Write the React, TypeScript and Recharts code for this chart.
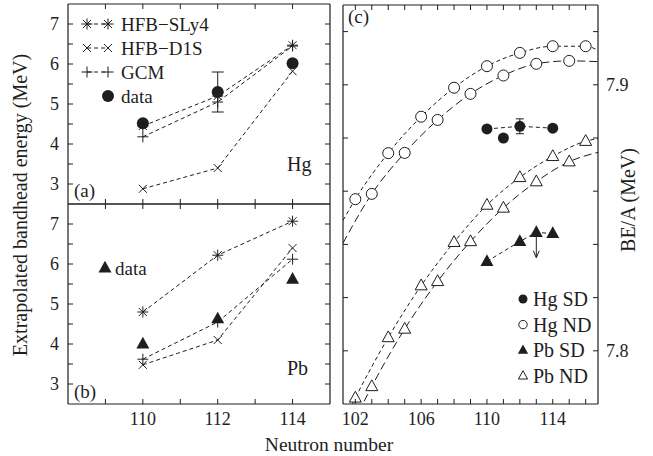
import React from 'react';
import { ComposedChart, Line, XAxis, YAxis, ErrorBar } from 'recharts';

const W = 653;
const H = 456;
const INK = '#1e1e1e';
const FONT = '"Liberation Serif", "DejaVu Serif", "Times New Roman", serif';
const SHORT = '4 3';
const LONG = '8 4';

// (a)/(b) extrapolated bandhead energy (MeV) vs neutron number
const bandN = [110, 112, 114];
const hgSly4 = [4.45, 5.2, 6.47];
const hgD1s = [2.88, 3.4, 5.82];
const hgGcm = [4.18, 5.05, 6.45];
const hgData = [4.52, 5.3, 6.02];
const hgDataErr = [0, 0.5, 0];
const pbSly4 = [4.8, 6.22, 7.07];
const pbD1s = [3.48, 4.1, 6.4];
const pbGcm = [3.62, 4.55, 6.12];
const pbData = [4.0, 4.63, 5.62];

const bandTicksX = [109, 110, 111, 112, 113, 114];
const bandLabelsX = [110, 112, 114];
const bandTicksY = [3, 3.5, 4, 4.5, 5, 5.5, 6, 6.5, 7];
const bandLabelsY = [3, 4, 5, 6, 7];

// (c) BE/A (MeV) vs neutron number
const evenN = [102, 104, 106, 108, 110, 112, 114, 116];
const oddN = [103, 105, 107, 109, 111, 113, 115];
const hgNdEven = [7.857, 7.8743, 7.888, 7.8989, 7.907, 7.912, 7.9145, 7.9145];
const hgNdOdd = [7.859, 7.8744, 7.8868, 7.8966, 7.9035, 7.9079, 7.909];
const pbNdEven = [7.7823, 7.805, 7.8245, 7.8408, 7.8548, 7.8652, 7.8731, 7.8788];
const pbNdOdd = [7.7866, 7.8082, 7.8261, 7.8411, 7.8537, 7.8636, 7.8711];
// where the dashed fits run into the frame
const frameN = [101.25, 116.75];
const hgEvenEnds = [7.849, 7.913];
const hgOddEnds = [7.8405, 7.9087];
const pbEvenEnds = [7.773, 7.8798];
const pbOddEnds = [7.7647, 7.8746];

const hgSdN = [110, 111, 112, 114];
const hgSd = [7.8834, 7.88, 7.8844, 7.8837];
const hgSdErr = [0, 0, 0.0028, 0];
const pbSdN = [110, 112, 113, 114];
const pbSd = [7.8336, 7.8411, 7.8445, 7.8441];
const pbLimitN = 113;
const pbLimit = [7.8445, 7.835];

const beTicksX = [102, 103, 104, 105, 106, 107, 108, 109, 110, 111, 112, 113, 114, 115, 116];
const beLabelsX = [102, 106, 110, 114];
const beTicksY = [7.8, 7.82, 7.84, 7.86, 7.88, 7.9, 7.92];
const beLabelsY = [7.8, 7.9];

const legendA = ['HFB\u2212SLy4', 'HFB\u2212D1S', 'GCM', 'data'];
const legendC = ['Hg SD', 'Hg ND', 'Pb SD', 'Pb ND'];

const hgRows = bandN.map((n, i) => ({ n, sly4: hgSly4[i], d1s: hgD1s[i], gcm: hgGcm[i], data: hgData[i], err: hgDataErr[i] }));
const pbRows = bandN.map((n, i) => ({ n, sly4: pbSly4[i], d1s: pbD1s[i], gcm: pbGcm[i], data: pbData[i], err: 0 }));

const pts = (ns: number[], vs: number[]) => ns.map((n, i) => ({ n, v: vs[i] }));
const fit = (ns: number[], vs: number[], ends: number[]) => [
  { n: frameN[0], v: ends[0] },
  ...pts(ns, vs),
  { n: frameN[1], v: ends[1] },
];

// ---- markers
type Mk = { cx?: number; cy?: number; s?: number };

function Star({ cx = 0, cy = 0 }: Mk) {
  const r = 5.5, d = 4;
  return (
    <g stroke={INK} strokeWidth={1}>
      <line x1={cx - r} x2={cx + r} y1={cy} y2={cy} />
      <line x1={cx} x2={cx} y1={cy - r} y2={cy + r} />
      <line x1={cx - d} x2={cx + d} y1={cy - d} y2={cy + d} />
      <line x1={cx - d} x2={cx + d} y1={cy + d} y2={cy - d} />
    </g>
  );
}
function Cross({ cx = 0, cy = 0 }: Mk) {
  const d = 4;
  return (
    <g stroke={INK} strokeWidth={1}>
      <line x1={cx - d} x2={cx + d} y1={cy - d} y2={cy + d} />
      <line x1={cx - d} x2={cx + d} y1={cy + d} y2={cy - d} />
    </g>
  );
}
function Plus({ cx = 0, cy = 0 }: Mk) {
  const r = 5.5;
  return (
    <g stroke={INK} strokeWidth={1}>
      <line x1={cx - r} x2={cx + r} y1={cy} y2={cy} />
      <line x1={cx} x2={cx} y1={cy - r} y2={cy + r} />
    </g>
  );
}
function Disc({ cx = 0, cy = 0, s = 6 }: Mk) {
  return <circle cx={cx} cy={cy} r={s} fill={INK} />;
}
function Ring({ cx = 0, cy = 0, s = 5.5 }: Mk) {
  return <circle cx={cx} cy={cy} r={s} fill="#fff" stroke={INK} strokeWidth={1} />;
}
function Tri({ cx = 0, cy = 0, s = 6.5 }: Mk) {
  return <path d={`M${cx},${cy - s * 1.1} L${cx + s},${cy + s * 0.7} L${cx - s},${cy + s * 0.7} Z`} fill={INK} />;
}
function OpenTri({ cx = 0, cy = 0, s = 6 }: Mk) {
  return (
    <path d={`M${cx},${cy - s * 1.1} L${cx + s},${cy + s * 0.7} L${cx - s},${cy + s * 0.7} Z`} fill="#fff" stroke={INK} strokeWidth={1} />
  );
}

const dotOf = (Shape: any, s?: number) => (p: any) => <Shape key={'m' + p.index} cx={p.cx} cy={p.cy} s={s} />;
const arrowDot = (p: any) =>
  p.index === 1 ? (
    <path key={'a' + p.index} d={`M${p.cx - 3},${p.cy - 7} L${p.cx},${p.cy} L${p.cx + 3},${p.cy - 7}`} fill="none" stroke={INK} strokeWidth={1} />
  ) : (
    <g key={'a' + p.index} />
  );

// ---- inward ticks
function XTick(props: any) {
  const { x, y, payload, up, labels } = props;
  return (
    <g>
      <line x1={x} x2={x} y1={y} y2={y + (up ? -5 : 5)} stroke={INK} strokeWidth={1} />
      {labels && labels.includes(payload.value) && (
        <text x={x} y={y + 21} textAnchor="middle" fontFamily={FONT} fontSize={18} fill={INK}>
          {payload.value}
        </text>
      )}
    </g>
  );
}
function YTick(props: any) {
  const { x, y, payload, left, labels } = props;
  return (
    <g>
      <line x1={x} x2={x + (left ? 5 : -5)} y1={y} y2={y} stroke={INK} strokeWidth={1} />
      {labels && labels.includes(payload.value) && (
        <text x={left ? x - 9 : x + 8} y={y + 6} textAnchor={left ? 'end' : 'start'} fontFamily={FONT} fontSize={18} fill={INK}>
          {payload.value}
        </text>
      )}
    </g>
  );
}

const frame = { stroke: INK, strokeWidth: 1.2 };
// axes are 1px thick (a 0px axis is not drawn), margins take the rest
const AX = 1;

function BandPanel({ rows, top, xLabels, Mark, err }: any) {
  return (
    <ComposedChart width={W} height={H} data={rows}
      margin={{ top: top - AX, right: W - 330 - AX, bottom: H - top - 200 - AX, left: 68 - AX }}>
      <XAxis dataKey="n" type="number" domain={[108, 115]} allowDataOverflow ticks={bandTicksX} interval={0}
        height={AX} tickSize={0} tickMargin={0} tickLine={false} axisLine={frame} tick={<XTick up labels={xLabels} />} />
      <XAxis xAxisId="top" orientation="top" dataKey="n" type="number" domain={[108, 115]} allowDataOverflow ticks={bandTicksX}
        interval={0} height={AX} tickSize={0} tickMargin={0} tickLine={false} axisLine={frame} tick={<XTick />} />
      <YAxis type="number" domain={[2.5, 7.5]} allowDataOverflow ticks={bandTicksY} interval={0} width={AX}
        tickSize={0} tickMargin={0} tickLine={false} axisLine={frame} tick={<YTick left labels={bandLabelsY} />} />
      <YAxis yAxisId="right" orientation="right" type="number" domain={[2.5, 7.5]} allowDataOverflow ticks={bandTicksY}
        interval={0} width={AX} tickSize={0} tickMargin={0} tickLine={false} axisLine={frame} tick={<YTick />} />
      <Line dataKey="d1s" type="linear" stroke={INK} strokeWidth={1} strokeDasharray={SHORT} dot={dotOf(Cross)} activeDot={false} isAnimationActive={false} />
      <Line dataKey="gcm" type="linear" stroke={INK} strokeWidth={1} strokeDasharray={SHORT} dot={dotOf(Plus)} activeDot={false} isAnimationActive={false} />
      <Line dataKey="sly4" type="linear" stroke={INK} strokeWidth={1} strokeDasharray={SHORT} dot={dotOf(Star)} activeDot={false} isAnimationActive={false} />
      <Line dataKey="data" stroke="none" dot={dotOf(Mark)} activeDot={false} isAnimationActive={false}>
        {err && <ErrorBar dataKey="err" direction="y" width={6} stroke={INK} strokeWidth={1} />}
      </Line>
    </ComposedChart>
  );
}

function BindingPanel() {
  const line = { type: 'monotone' as const, stroke: INK, strokeWidth: 1, dot: false, activeDot: false as const, isAnimationActive: false };
  const hgSdRows = hgSdN.map((n, i) => ({ n, v: hgSd[i], err: hgSdErr[i] }));
  return (
    <ComposedChart width={W} height={H} margin={{ top: 5 - AX, right: W - 598 - AX, bottom: H - 404 - AX, left: 343 - AX }}>
      <XAxis dataKey="n" type="number" domain={frameN} allowDataOverflow ticks={beTicksX} interval={0}
        height={AX} tickSize={0} tickMargin={0} tickLine={false} axisLine={frame} tick={<XTick up labels={beLabelsX} />} />
      <XAxis xAxisId="top" orientation="top" dataKey="n" type="number" domain={frameN} allowDataOverflow ticks={beTicksX}
        interval={0} height={AX} tickSize={0} tickMargin={0} tickLine={false} axisLine={frame} tick={<XTick />} />
      <YAxis type="number" domain={[7.78, 7.93]} allowDataOverflow ticks={beTicksY} interval={0} width={AX}
        tickSize={0} tickMargin={0} tickLine={false} axisLine={frame} tick={<YTick left />} />
      <YAxis yAxisId="right" orientation="right" type="number" domain={[7.78, 7.93]} allowDataOverflow ticks={beTicksY}
        interval={0} width={AX} tickSize={0} tickMargin={0} tickLine={false} axisLine={frame} tick={<YTick labels={beLabelsY} />} />

      <Line {...line} data={fit(evenN, hgNdEven, hgEvenEnds)} dataKey="v" strokeDasharray={SHORT} />
      <Line {...line} data={fit(oddN, hgNdOdd, hgOddEnds)} dataKey="v" strokeDasharray={LONG} />
      <Line {...line} data={fit(evenN, pbNdEven, pbEvenEnds)} dataKey="v" strokeDasharray={SHORT} />
      <Line {...line} data={fit(oddN, pbNdOdd, pbOddEnds)} dataKey="v" strokeDasharray={LONG} />
      <Line {...line} type="linear" data={hgSdRows.filter((d) => d.n % 2 === 0)} dataKey="v" strokeDasharray={SHORT} />
      <Line {...line} type="linear" data={pts(pbSdN, pbSd)} dataKey="v" strokeDasharray={SHORT} />
      <Line {...line} type="linear" data={pts([pbLimitN, pbLimitN], pbLimit)} dataKey="v" dot={arrowDot} />

      <Line data={pts(evenN, hgNdEven)} dataKey="v" stroke="none" dot={dotOf(Ring)} activeDot={false} isAnimationActive={false} />
      <Line data={pts(oddN, hgNdOdd)} dataKey="v" stroke="none" dot={dotOf(Ring)} activeDot={false} isAnimationActive={false} />
      <Line data={pts(evenN, pbNdEven)} dataKey="v" stroke="none" dot={dotOf(OpenTri)} activeDot={false} isAnimationActive={false} />
      <Line data={pts(oddN, pbNdOdd)} dataKey="v" stroke="none" dot={dotOf(OpenTri)} activeDot={false} isAnimationActive={false} />
      <Line data={hgSdRows} dataKey="v" stroke="none" dot={dotOf(Disc, 5.5)} activeDot={false} isAnimationActive={false}>
        <ErrorBar dataKey="err" direction="y" width={4} stroke={INK} strokeWidth={1} />
      </Line>
      <Line data={pts(pbSdN, pbSd)} dataKey="v" stroke="none" dot={dotOf(Tri)} activeDot={false} isAnimationActive={false} />
    </ComposedChart>
  );
}

function Overlay() {
  const t = { fontFamily: FONT, fill: INK, dominantBaseline: 'central' as const };
  const legendShapesA = [Star, Cross, Plus];
  const legendShapesC = [Disc, Ring, Tri, OpenTri];
  const legendSizesC = [4.5, 4.2, 5.2, 4.6];
  return (
    <svg width={W} height={H} style={{ position: 'absolute', left: 0, top: 0 }}>
      <text {...t} x={74} y={190} fontSize={19}>(a)</text>
      <text {...t} x={287} y={164} fontSize={20}>Hg</text>
      <text {...t} x={74} y={391} fontSize={19}>(b)</text>
      <text {...t} x={287} y={368} fontSize={20}>Pb</text>
      <text {...t} x={348} y={16} fontSize={19}>(c)</text>

      {legendA.map((label, i) => {
        const y = 24 + i * 24;
        const Shape = legendShapesA[i];
        return (
          <g key={label}>
            {Shape ? (
              <>
                <line x1={87} x2={108} y1={y} y2={y} stroke={INK} strokeWidth={1} strokeDasharray={SHORT} />
                <Shape cx={87} cy={y} />
                <Shape cx={108} cy={y} />
              </>
            ) : (
              <Disc cx={108} cy={y} s={6} />
            )}
            <text {...t} x={121} y={y} fontSize={19}>{label}</text>
          </g>
        );
      })}

      <Tri cx={105} cy={268} s={6.5} />
      <text {...t} x={115} y={268} fontSize={19}>data</text>

      {legendC.map((label, i) => {
        const y = 299 + i * 25.6;
        const Shape = legendShapesC[i];
        return (
          <g key={label}>
            <Shape cx={523} cy={y} s={legendSizesC[i]} />
            <text {...t} x={533} y={y} fontSize={20}>{label}</text>
          </g>
        );
      })}

      <text {...t} x={20} y={205} fontSize={20} textAnchor="middle" transform="rotate(-90 20 205)">
        Extrapolated bandhead energy (MeV)
      </text>
      <text {...t} x={628} y={200} fontSize={20} textAnchor="middle" transform="rotate(-90 628 200)">
        BE/A (MeV)
      </text>
      <text {...t} x={329} y={444} fontSize={19.5} textAnchor="middle">Neutron number</text>
    </svg>
  );
}

export default function App() {
  const layer = { position: 'absolute' as const, left: 0, top: 0 };
  return (
    <div style={{ position: 'absolute', left: 0, top: 0, width: W, height: H, background: '#fff', fontFamily: FONT }}>
      <div style={layer}>
        <BandPanel rows={hgRows} top={4} xLabels={[]} Mark={Disc} err />
      </div>
      <div style={layer}>
        <BandPanel rows={pbRows} top={204} xLabels={bandLabelsX} Mark={Tri} />
      </div>
      <div style={layer}>
        <BindingPanel />
      </div>
      <Overlay />
    </div>
  );
}
